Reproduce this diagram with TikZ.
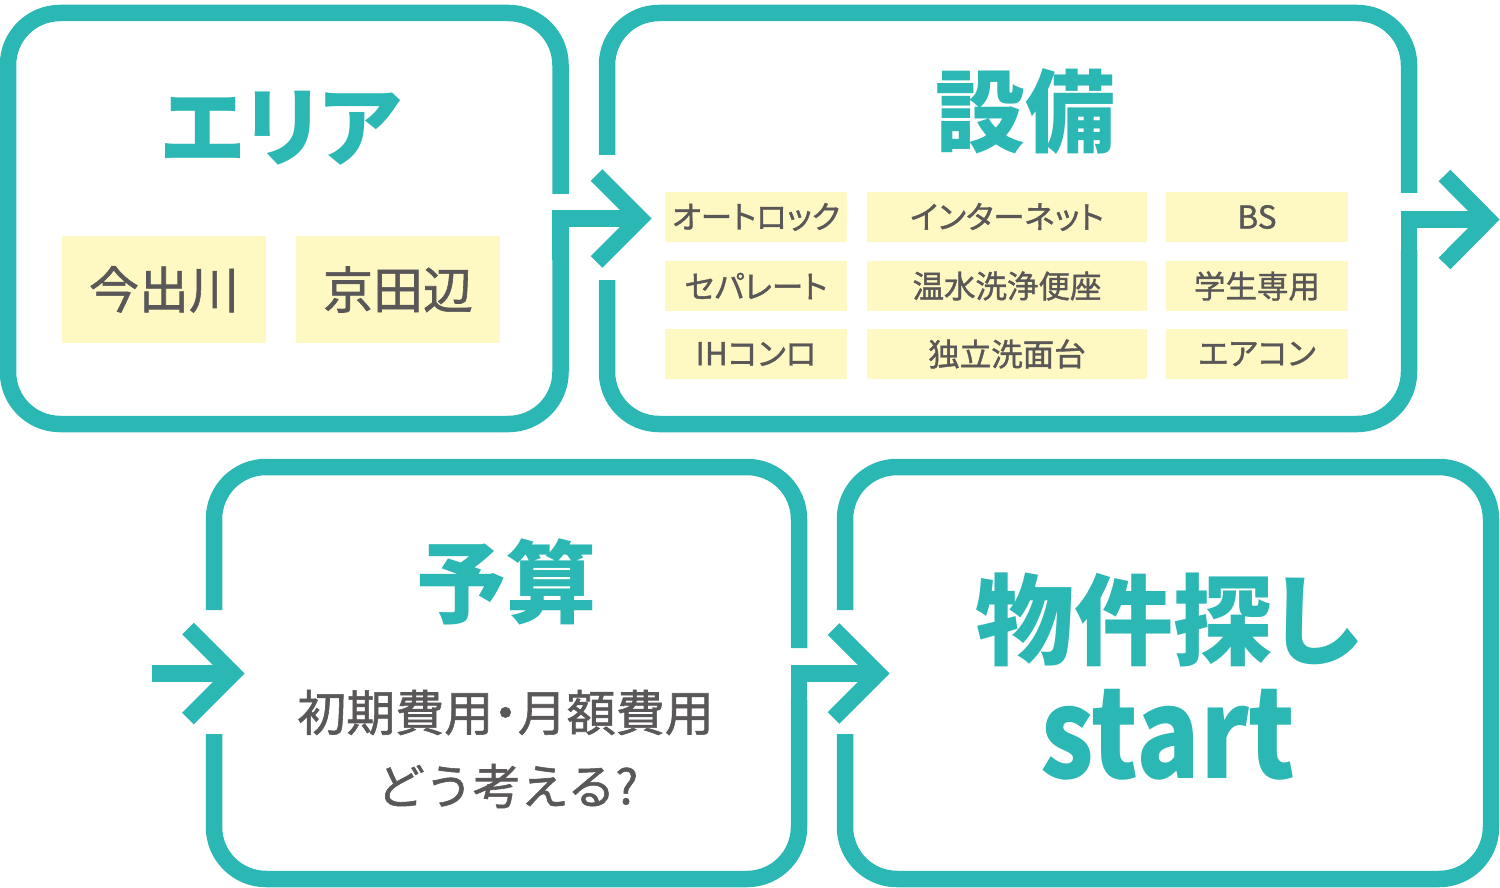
\documentclass[tikz,border=0pt]{standalone}
\usepackage{fontspec}
\newfontfamily\jp{Noto Sans CJK JP}
\newfontfamily\jpp{Noto Sans CJK JP}[RawFeature=+palt]
\newfontfamily\jpm{Noto Sans CJK JP}[RawFeature=+palt,FakeBold=1.2]
\newfontfamily\jpf{Noto Sans CJK JP}[FakeBold=1.2]
\definecolor{teal1}{HTML}{2BB7B3}
\definecolor{cream}{HTML}{FEF8C2}
\definecolor{ink}{HTML}{595757}
\tikzset{
  frame/.style={draw=teal1, line width=16.5pt, rounded corners=52pt, line cap=butt},
  shaft/.style={draw=teal1, line width=16.5pt, line join=miter, line cap=butt},
  tag/.style={fill=cream, inner sep=0pt, text=ink, font=\jpm\fontsize{31.5}{36}\selectfont},
  bigtag/.style={fill=cream, inner sep=0pt, text=ink, minimum width=204pt, minimum height=107pt, font=\jpm\fontsize{50}{60}\selectfont},
  title/.style={text=teal1, inner sep=0pt, font=\jpp\bfseries\fontsize{90}{100}\selectfont},
  body/.style={text=ink, inner sep=0pt, font=\jpm\fontsize{49}{56}\selectfont},
}
\begin{document}
\begin{tikzpicture}[x=1pt,y=-1pt]
\useasboundingbox (0,0) rectangle (1500,888);
% ---------- box 1 : area ----------
\draw[frame] (560.5,194) -- (560.5,13) -- (8,13) -- (8,424) -- (560.5,424) -- (560.5,250);
\coordinate (a1s) at (560.5,260);
\coordinate (a1c) at (560.5,218.5);
\coordinate (a1t) at (640,218.5);
\draw[shaft] (a1s) -- (a1c) -- (a1t);
\draw[shaft] (596.5,175) -- (a1t) -- (596.5,262);
\node[title, font=\jpp\bfseries\fontsize{87}{100}\selectfont] (t1) at (281,128) {エリア};
\node[bigtag] (imade) at (164,289.5) {今出川};
\node[bigtag] (kyota) at (398,289.5) {京田辺};
% ---------- box 2 : equipment ----------
\draw[frame] (607,155) -- (607,13) -- (1409,13) -- (1409,193);
\draw[frame] (1409,250) -- (1409,424) -- (607,424) -- (607,280);
\coordinate (a2s) at (1409,260);
\coordinate (a2c) at (1409,219.5);
\coordinate (a2t) at (1488,219.5);
\draw[shaft] (a2s) -- (a2c) -- (a2t);
\draw[shaft] (1444.5,175.5) -- (a2t) -- (1444.5,263.5);
\node[title] (t2) at (1025,112) {設備};
\node[tag, minimum width=182pt, minimum height=50pt] (e11) at (756,217) {オートロック};
\node[tag, minimum width=280pt, minimum height=50pt] (e12) at (1007,217) {インターネット};
\node[tag, minimum width=182pt, minimum height=50pt] (e13) at (1257,217) {BS};
\node[tag, minimum width=182pt, minimum height=50pt] (e21) at (756,286) {セパレート};
\node[tag, minimum width=280pt, minimum height=50pt] (e22) at (1007,286) {温水洗浄便座};
\node[tag, minimum width=182pt, minimum height=50pt] (e23) at (1257,286) {学生専用};
\node[tag, minimum width=182pt, minimum height=50pt] (e31) at (756,354) {IHコンロ};
\node[tag, minimum width=280pt, minimum height=50pt] (e32) at (1007,354) {独立洗面台};
\node[tag, minimum width=182pt, minimum height=50pt] (e33) at (1257,354) {エアコン};
% ---------- box 3 : budget ----------
\coordinate (a0s) at (152,673.5);
\coordinate (a0t) at (233,673.5);
\draw[shaft] (a0s) -- (a0t);
\draw[shaft] (188,628.5) -- (a0t) -- (188,718.5);
\draw[frame] (214,610) -- (214,467) -- (799,467) -- (799,648);
\draw[frame] (799,700) -- (799,879) -- (214,879) -- (214,734);
\coordinate (a3s) at (799,720);
\coordinate (a3c) at (799,673.5);
\coordinate (a3t) at (878,673.5);
\draw[shaft] (a3s) -- (a3c) -- (a3t);
\draw[shaft] (833.5,629) -- (a3t) -- (833.5,718);
\node[title] (t3) at (506,582) {予算};
\node[body] (b1) at (505.5,712.5) {初期費用・月額費用};
\node[body, font=\jpf\fontsize{48}{56}\selectfont] (b2) at (507.5,786) {どう考える?};
% ---------- box 4 : start ----------
\draw[frame] (845,610) -- (845,467) -- (1491,467) -- (1491,879) -- (845,879) -- (845,734);
\node[title, font=\jpp\bfseries\fontsize{99}{110}\selectfont] (t4) at (1167,620) {物件探し};
\node[title, font=\jp\bfseries\fontsize{124}{140}\selectfont] (t5) at (1168,735) {\scalebox{0.85}[1]{start}};
\end{tikzpicture}
\end{document}
